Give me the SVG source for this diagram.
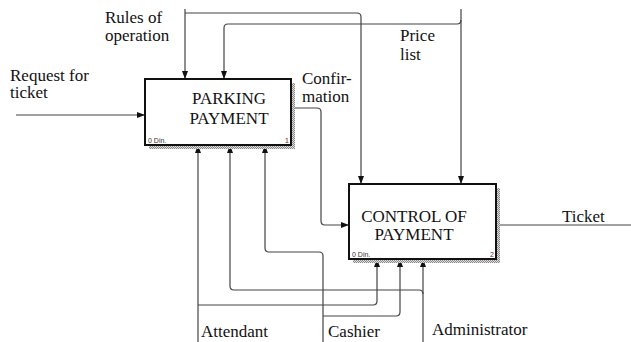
<svg xmlns="http://www.w3.org/2000/svg" width="631" height="342" viewBox="0 0 631 342">
<style>
  .lbl{font-family:"Liberation Serif","Times New Roman",Times,serif;font-size:17px;fill:#111}
  .ttl{font-family:"Liberation Serif","Times New Roman",Times,serif;font-size:17px;fill:#111;text-anchor:middle}
  .small{font-family:"Liberation Sans",Arial,sans-serif;font-size:7px;fill:#333}
  .num{font-family:"Liberation Sans",Arial,sans-serif;font-size:7px;fill:#702020;text-anchor:end}
  .box{fill:#fff;stroke:#111;stroke-width:2}
  .conn{fill:none;stroke:#444;stroke-width:1.2}
</style>
<defs>
  <pattern id="hatch" width="2" height="2" patternUnits="userSpaceOnUse">
    <rect width="2" height="2" fill="#e0e0e0"/>
    <rect width="1" height="1" fill="#888"/>
    <rect x="1" y="1" width="1" height="1" fill="#888"/>
  </pattern>
  <marker id="arr" viewBox="0 0 8 6" refX="8" refY="3" markerWidth="8" markerHeight="6" markerUnits="userSpaceOnUse" orient="auto">
    <path d="M0,0 L8,3 L0,6 z" fill="#111"/>
  </marker>
</defs>

<g id="connectors">
  <!-- Request for ticket -->
  <path class="conn" d="M16,115 H145" marker-end="url(#arr)"/>
  <!-- Rules of operation -->
  <path class="conn" d="M185,9 V79" marker-end="url(#arr)"/>
  <path class="conn" d="M185,13 H357 Q361,13 361,17 V184" marker-end="url(#arr)"/>
  <!-- Price list -->
  <path class="conn" d="M461,9 V184" marker-end="url(#arr)"/>
  <path class="conn" d="M461,20 Q461,24 457,24 H228 Q224,24 224,28 V79" marker-end="url(#arr)"/>
  <!-- Confirmation -->
  <path class="conn" d="M291,108 H317 Q321,108 321,112 V221 Q321,225 325,225 H349" marker-end="url(#arr)"/>
  <!-- Ticket -->
  <path class="conn" d="M496,225 H631"/>
  <!-- Attendant -->
  <path class="conn" d="M198,342 V145" marker-end="url(#arr)"/>
  <path class="conn" d="M198,305 H373 Q377,305 377,301 V259" marker-end="url(#arr)"/>
  <!-- Cashier -->
  <path class="conn" d="M323,342 V256 Q323,252 319,252 H269 Q265,252 265,248 V145" marker-end="url(#arr)"/>
  <path class="conn" d="M323,316 H396 Q400,316 400,312 V259" marker-end="url(#arr)"/>
  <!-- Administrator -->
  <path class="conn" d="M423,342 V259" marker-end="url(#arr)"/>
  <path class="conn" d="M423,294 Q423,290 419,290 H234 Q230,290 230,286 V145" marker-end="url(#arr)"/>
</g>

<g id="node1">
  <rect x="149" y="83" width="146" height="66" fill="url(#hatch)"/>
  <rect class="box" x="145" y="79" width="146" height="66"/>
  <text class="ttl" x="229" y="104">PARKING</text>
  <text class="ttl" x="229" y="124">PAYMENT</text>
  <text class="small" x="148" y="143">0 Din.</text>
  <text class="num" x="289" y="143">1</text>
</g>

<g id="node2">
  <rect x="353" y="188" width="147" height="75" fill="url(#hatch)"/>
  <rect class="box" x="349" y="184" width="147" height="75"/>
  <text class="ttl" x="414" y="222">CONTROL OF</text>
  <text class="ttl" x="414" y="240">PAYMENT</text>
  <text class="small" x="352" y="257">0 Din.</text>
  <text class="num" x="494" y="257">2</text>
</g>

<g id="labels">
  <text class="lbl" x="105" y="23">Rules of</text>
  <text class="lbl" x="105" y="41">operation</text>
  <text class="lbl" x="10" y="81">Request for</text>
  <text class="lbl" x="10" y="98">ticket</text>
  <text class="lbl" x="302" y="84">Confir-</text>
  <text class="lbl" x="302" y="102">mation</text>
  <text class="lbl" x="400" y="41">Price</text>
  <text class="lbl" x="400" y="60">list</text>
  <text class="lbl" x="562" y="222">Ticket</text>
  <text class="lbl" x="201" y="337">Attendant</text>
  <text class="lbl" x="328" y="337">Cashier</text>
  <text class="lbl" x="432" y="335">Administrator</text>
</g>
</svg>
